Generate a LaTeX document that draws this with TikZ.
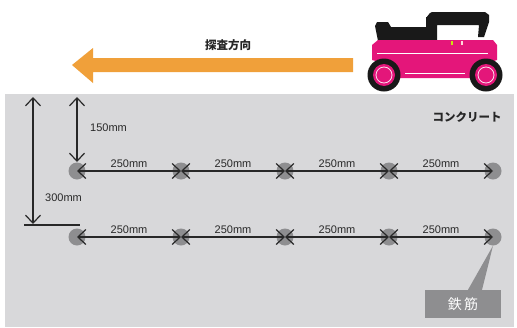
\documentclass[tikz,border=0pt]{standalone}
\usepackage{fontspec}
\setmainfont{Liberation Sans}
\newfontfamily\jpfont{Noto Sans CJK JP}
\usetikzlibrary{arrows.meta}
\definecolor{concrete}{RGB}{216,216,218}
\definecolor{scanorange}{RGB}{240,160,58}
\definecolor{carpink}{RGB}{228,22,122}
\definecolor{rebar}{RGB}{142,142,144}
\definecolor{dimline}{RGB}{40,40,40}
\begin{document}
\begin{tikzpicture}[x=1pt,y=-1pt,
  rebardot/.style={circle,fill=rebar,minimum size=17pt,inner sep=0pt},
  barb/.tip={Straight Barb[length=8pt,width=15pt,line width=1.2pt]},
  dimarrow/.style={draw=dimline,line width=1.1pt,barb-barb},
  dimtext/.style={font=\fontsize{11}{12}\selectfont,text=dimline,inner sep=1pt},
  jptext/.style={font=\jpfont\bfseries\fontsize{11.5}{13}\selectfont,text=black!85,inner sep=0pt}]
\useasboundingbox (0,0) rectangle (517,327);
\fill[white] (0,0) rectangle (517,327);

% concrete block
\fill[concrete] (5,94) rectangle (514,327);

% scanning direction arrow
\fill[scanorange] (72,65) -- (93,48) -- (93,58) -- (353,58) -- (353,72)
  -- (93,72) -- (93,83) -- cycle;
\node[jptext] (dir) at (228,45) {探査方向};

% scanner cart: handle
\fill[black!90] (375,26) -- (377,22) -- (388,22) -- (391,27) -- (426,27)
  -- (426,17) to[out=-90,in=180] (432,12) -- (485,12) -- (489,15) -- (489,22)
  -- (484,37) -- (478,37) -- (479,25) -- (437,25) -- (437,41) -- (378,41) -- cycle;
% cart body
\fill[carpink] (372,45) -- (378,40) -- (493,40) -- (497,45) -- (497,60)
  -- (478,66) -- (478,78) -- (395,78) -- (395,66) -- (372,60) -- cycle;
\draw[white,line width=0.9pt] (377,53) -- (488,53);
\draw[white,line width=0.9pt] (405,73) -- (465,73);
\fill[yellow!80!green] (451,41) rectangle (453,45);
\fill[pink!60] (461,41) rectangle (463,45);
% wheels
\foreach \wx in {384,486}{
  \fill[black!90] (\wx,75) circle (16.5);
  \fill[carpink] (\wx,75) circle (11);
  \draw[white!85!carpink,line width=0.8pt] (\wx,75) circle (8);
}

% label for the concrete
\node[jptext] (con) at (467,117) {コンクリート};

% rebar positions
\foreach \i/\x in {1/77,2/181,3/285,4/389,5/493}{
  \node[rebardot] (a\i) at (\x,171) {};
  \node[rebardot] (b\i) at (\x,237) {};
}

% spacing dimensions
\foreach \i/\j in {1/2,2/3,3/4,4/5}{
  \draw[dimarrow] (a\i.center) -- node[dimtext,above=2pt] (la\i) {250mm} (a\j.center);
  \draw[dimarrow] (b\i.center) -- node[dimtext,above=2pt] (lb\i) {250mm} (b\j.center);
}

% depth dimensions
\coordinate (top150) at (77,97);
\coordinate (bot150) at (77,162);
\draw[dimarrow] (top150) -- (bot150);
\node[dimtext,anchor=west] (d150) at (89,128) {150mm};

\coordinate (top300) at (33,97);
\coordinate (bot300) at (33,224);
\draw[dimarrow] (top300) -- (bot300);
\coordinate (refL) at (24,225);
\coordinate (refR) at (80,225);
\draw[dimline,line width=1.1pt] (refL) -- (refR);
\node[dimtext,anchor=west] (d300) at (44,198) {300mm};

% rebar callout
\node[fill=rebar,minimum width=76pt,minimum height=28pt,inner sep=0pt,
  text=white,font=\jpfont\fontsize{14}{16}\selectfont] (tag) at (463,304) {鉄\,筋};
\fill[rebar] ([xshift=5pt]tag.north) -- ([xshift=19pt]tag.north) -- (b5.south) -- cycle;
\end{tikzpicture}
\end{document}
